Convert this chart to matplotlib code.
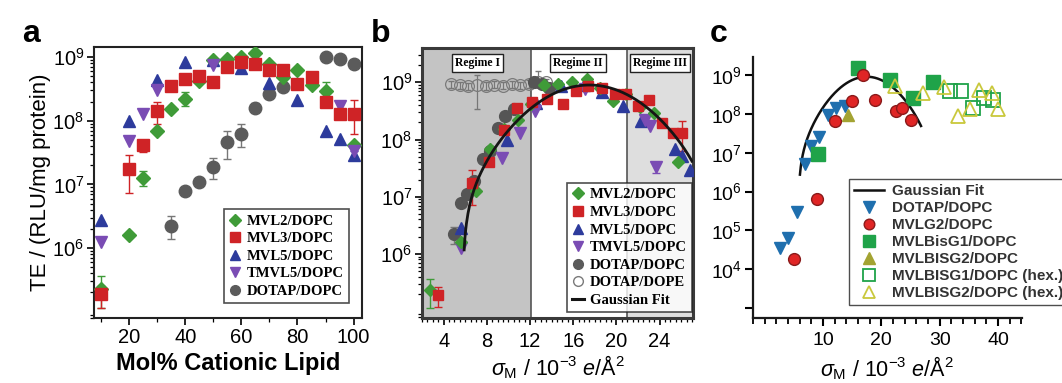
import matplotlib
matplotlib.use("Agg")
import matplotlib.pyplot as plt
import matplotlib.ticker as mticker
from matplotlib.lines import Line2D
import numpy as np

plt.rcParams['font.family'] = 'Liberation Sans'
plt.rcParams['mathtext.fontset'] = 'custom'
plt.rcParams['mathtext.rm'] = 'Liberation Sans'
plt.rcParams['mathtext.it'] = 'Liberation Sans:italic'
plt.rcParams['mathtext.bf'] = 'Liberation Sans:bold'

# ---------------- panel a: TE vs mol% cationic lipid
a_mvl2_mol = [10, 20, 25, 30, 35, 40, 45, 50, 55, 60, 65, 70, 75, 80, 85, 90, 100]
a_mvl2_te = [2.3e5, 1.6e6, 1.26e7, 6.8e7, 1.55e8, 2.2e8, 4.2e8, 9.1e8, 9.5e8, 1.0e9,
             1.15e9, 7.9e8, 4.8e8, 6.2e8, 3.7e8, 2.9e8, 4.1e7]
a_mvl3_mol = [10, 20, 25, 30, 35, 40, 45, 50, 55, 60, 65, 70, 75, 80, 85, 90, 95, 100]
a_mvl3_te = [1.9e5, 1.75e7, 4.1e7, 1.45e8, 3.5e8, 4.6e8, 5.1e8, 4.1e8, 7.1e8, 8.5e8,
             7.9e8, 6.2e8, 6.3e8, 3.8e8, 4.9e8, 1.95e8, 1.3e8, 1.3e8]
a_mvl5_mol = [10, 20, 30, 40, 50, 60, 70, 80, 90, 95, 100]
a_mvl5_te = [2.8e6, 1.0e8, 4.4e8, 8.5e8, 9.0e8, 6.8e8, 3.9e8, 2.1e8, 6.8e7, 5.1e7, 2.95e7]
a_tmvl5_mol = [10, 20, 25, 30, 50, 95, 100]
a_tmvl5_te = [1.26e6, 4.8e7, 1.3e8, 3.1e8, 7.6e8, 1.7e8, 3.3e7]
a_dotap_mol = [35, 40, 45, 50, 55, 60, 65, 70, 75, 90, 95, 100]
a_dotap_te = [2.2e6, 7.8e6, 1.1e7, 1.85e7, 4.6e7, 6.3e7, 1.6e8, 2.6e8, 3.4e8, 1.0e9, 9.4e8, 7.9e8]

# error bars (mol%, low, high)
a_mvl2_err = ([10, 25, 40, 90], [1.15e5, 9.5e6, 1.7e8, 2.3e8], [3.6e5, 1.6e7, 2.8e8, 4.1e8])
a_mvl3_err = ([10, 20, 25, 30, 100], [1.15e5, 7.2e6, 3.2e7, 9.0e7, 6.3e7],
              [2.5e5, 2.9e7, 5.0e7, 2.0e8, 2.1e8])
a_mvl5_err = ([100], [2.5e7], [3.4e7])
a_dotap_err = ([35, 50, 55, 60, 65], [1.4e6, 1.2e7, 2.5e7, 3.9e7, 1.35e8],
               [3.2e6, 2.6e7, 7.0e7, 9.0e7, 1.9e8])

# ---------------- panel b: TE vs membrane charge density
b_mvl2_sig = [2.7, 5.6, 7.0, 8.3, 9.6, 10.9, 12.1, 13.3, 14.6, 15.9, 17.3, 18.5, 19.7,
              20.9, 22.2, 23.5, 25.7]
b_mvl2_te = a_mvl2_te
b_mvl3_sig = [3.5, 6.65, 8.2, 9.57, 10.8, 12.2, 13.6, 15.05, 16.3, 17.4, 18.65, 19.9,
              20.9, 22.0, 23.05, 24.2, 25.2, 26.1]
b_mvl3_te = a_mvl3_te
b_mvl5_sig = [5.6, 9.9, 12.6, 14.9, 17.0, 18.7, 20.6, 22.3, 25.4, 26.1, 26.8]
b_mvl5_te = a_mvl5_te
b_tmvl5_sig = [5.6, 9.4, 11.1, 12.5, 17.1, 22.65, 23.1, 23.7]
b_tmvl5_te = [1.26e6, 4.8e7, 1.3e8, 3.1e8, 7.6e8, 2.2e8, 1.7e8, 3.3e7]
b_dotap_sig = [5.0, 5.6, 6.2, 6.8, 7.6, 8.3, 9.0, 9.7, 10.5, 12.4, 13.1, 13.8]
b_dotap_te = a_dotap_te
b_dope_sig = [4.7, 5.5, 6.3, 7.1, 7.9, 8.7, 9.5, 10.3, 11.1, 11.9, 12.7, 13.5]
b_dope_te = [9.2e8, 8.8e8, 8.5e8, 9.0e8, 8.6e8, 9.1e8, 8.7e8, 9.2e8, 8.9e8, 9.4e8, 1.0e9, 1.0e9]
b_dope_lo = [7.8e8, 7.6e8, 7.4e8, 3.4e8, 7.4e8, 7.8e8, 7.5e8, 8.0e8, 7.7e8, 8.1e8, 8.6e8, 8.6e8]
b_dope_hi = [1.07e9, 1.02e9, 9.8e8, 1.35e9, 1.0e9, 1.06e9, 1.0e9, 1.07e9, 1.03e9, 1.1e9, 1.6e9, 1.16e9]
b_mvl2_err = ([2.7], [1.15e5], [3.6e5])
b_mvl3_err = ([3.5, 6.65, 26.1], [1.2e5, 7.2e6, 6.3e7], [2.6e5, 2.9e7, 2.1e8])
b_tmvl5_err = ([23.7], [2.6e7], [3.8e7])
b_dotap_err = ([5.0], [1.5e6], [3.0e6])
regime_bounds = [12.1, 21.0]
regime_names = ['Regime I', 'Regime II', 'Regime III']
regime_label_x = [7.1, 16.45, 24.0]

# Gaussian fit (panels b and c)
GAUSS_AMP = 9.1e8
GAUSS_CENTER = 17.5
GAUSS_WIDTH = 4.0
GAUSS_OFFSET = 1.24e7
b_fit_range = (5.9, 27.0)
c_fit_range = (6.05, 26.8)

# ---------------- panel c: guanidinium lipids
c_dotap_sig = [2.7, 4.0, 5.5, 6.9, 8.0, 9.4, 10.9, 12.3, 13.7]
c_dotap_te = [3.5e4, 6.3e4, 2.9e5, 5.0e6, 1.5e7, 2.5e7, 9.5e7, 1.4e8, 1.55e8]
c_mvlg2_sig = [5.0, 8.9, 12.0, 14.9, 16.9, 19.0, 22.5, 23.6, 25.0]
c_mvlg2_te = [1.9e4, 6.3e5, 6.5e7, 2.1e8, 1.0e9, 2.3e8, 1.2e8, 1.4e8, 7.0e7]
c_bisg1_sig = [9.1, 16.0, 21.4, 25.4, 28.9]
c_bisg1_te = [9.5e6, 1.5e9, 7.2e8, 2.6e8, 6.6e8]
c_bisg2_sig = [14.35]
c_bisg2_te = [9.5e7]
c_bisg1_hex_sig = [31.8, 33.7, 35.7, 37.6, 39.2]
c_bisg1_hex_te = [3.9e8, 3.9e8, 1.4e8, 2.5e8, 2.2e8]
c_bisg2_hex_sig = [22.4, 27.1, 30.7, 33.1, 35.2, 36.8, 38.9, 40.0]
c_bisg2_hex_te = [5.2e8, 3.5e8, 5.0e8, 9.0e7, 1.3e8, 4.2e8, 3.5e8, 1.3e8]
c_xtick_labels = [10, 20, 30, 40]

COL_MVL2 = '#3f9b38'
COL_MVL3 = '#cf2326'
COL_MVL5 = '#2d3b9c'
COL_TMVL5 = '#7a4cb4'
COL_DOTAP = '#5b5b5b'


def gauss_fit(x):
    return GAUSS_AMP * np.exp(-(x - GAUSS_CENTER) ** 2 / (2 * GAUSS_WIDTH ** 2)) - GAUSS_OFFSET


def draw_err(ax, xs, ys, err, color):
    lookup = dict(zip(xs, ys))
    ex, lo, hi = err
    ey = [lookup[x] for x in ex]
    ax.errorbar(ex, ey, yerr=[np.subtract(ey, lo), np.subtract(hi, ey)], fmt='none',
                ecolor=color, elinewidth=1.0, capsize=3, capthick=1.0, zorder=1)


def log_axis(ax, lo, hi):
    ax.set_yscale('log')
    ax.set_ylim(lo, hi)
    ax.yaxis.set_major_locator(mticker.FixedLocator([1e6, 1e7, 1e8, 1e9]))
    ax.yaxis.set_major_formatter(mticker.LogFormatterSciNotation())
    ax.yaxis.set_minor_locator(mticker.LogLocator(base=10, subs=np.arange(2, 10), numticks=20))
    ax.yaxis.set_minor_formatter(mticker.NullFormatter())


fig = plt.figure(figsize=(10.62, 3.83), dpi=100)
legfont = {'family': 'Liberation Serif', 'weight': 'bold', 'size': 10.5}

# ================= panel a
ax_a = fig.add_axes([0.0885, 0.1697, 0.2524, 0.7076])
log_axis(ax_a, 10 ** 4.9, 10 ** 9.16)
ax_a.set_xlim(7.5, 103)
ax_a.xaxis.set_major_locator(mticker.MultipleLocator(20))
ax_a.xaxis.set_minor_locator(mticker.MultipleLocator(10))

for err, xs, ys, c in [(a_dotap_err, a_dotap_mol, a_dotap_te, '#777777'),
                       (a_mvl2_err, a_mvl2_mol, a_mvl2_te, COL_MVL2),
                       (a_mvl3_err, a_mvl3_mol, a_mvl3_te, COL_MVL3),
                       (a_mvl5_err, a_mvl5_mol, a_mvl5_te, COL_MVL5)]:
    draw_err(ax_a, xs, ys, err, c)

h_dotap, = ax_a.plot(a_dotap_mol, a_dotap_te, 'o', ms=9, color=COL_DOTAP, mec=COL_DOTAP, zorder=2)
h_mvl5, = ax_a.plot(a_mvl5_mol, a_mvl5_te, '^', ms=9, color=COL_MVL5, mec=COL_MVL5, zorder=3)
h_mvl2, = ax_a.plot(a_mvl2_mol, a_mvl2_te, 'D', ms=7, color=COL_MVL2, mec=COL_MVL2, zorder=4)
h_tmvl5, = ax_a.plot(a_tmvl5_mol, a_tmvl5_te, 'v', ms=9, color=COL_TMVL5, mec=COL_TMVL5, zorder=5)
h_mvl3, = ax_a.plot(a_mvl3_mol, a_mvl3_te, 's', ms=8.5, color=COL_MVL3, mec=COL_MVL3, zorder=6)

leg_handles = [Line2D([], [], ls='none', marker=m, color=c, ms=s)
               for m, c, s in [('D', COL_MVL2, 6), ('s', COL_MVL3, 7), ('^', COL_MVL5, 7),
                               ('v', COL_TMVL5, 7), ('o', COL_DOTAP, 7)]]
leg = ax_a.legend(leg_handles, ['MVL2/DOPC', 'MVL3/DOPC', 'MVL5/DOPC', 'TMVL5/DOPC', 'DOTAP/DOPC'],
                  loc='lower right', bbox_to_anchor=(0.95, 0.055), prop=legfont,
                  frameon=True, fancybox=False, edgecolor='#222222', borderaxespad=0,
                  handlelength=0.8, handletextpad=0.4, labelspacing=0.3, borderpad=0.35)
leg.get_frame().set_linewidth(1.2)

ax_a.set_ylabel('TE / (RLU/mg protein)', fontsize=16, labelpad=1)
ax_a.set_xlabel('Mol% Cationic Lipid', fontsize=17, fontweight='bold', labelpad=4)
ax_a.tick_params(axis='both', which='major', labelsize=14.5, length=5, width=1.2, pad=2)
ax_a.tick_params(axis='both', which='minor', length=3, width=0.9)
for s in ax_a.spines.values():
    s.set_linewidth(1.5)
    s.set_color('#222222')
fig.text(0.021, 0.89, 'a', fontsize=23, fontweight='bold')

# ================= panel b
ax_b = fig.add_axes([0.3974, 0.1697, 0.2552, 0.705])
log_axis(ax_b, 10 ** 4.88, 10 ** 9.6)
ax_b.set_xlim(2.0, 27.1)
ax_b.xaxis.set_major_locator(mticker.MultipleLocator(4))
ax_b.xaxis.set_minor_locator(mticker.MultipleLocator(0.5))

ax_b.axvspan(ax_b.get_xlim()[0], regime_bounds[0], color='#c4c4c4', zorder=0, lw=0)
ax_b.axvspan(regime_bounds[1], ax_b.get_xlim()[1], color='#dedede', zorder=0, lw=0)
for xb in regime_bounds:
    ax_b.axvline(xb, color='#555555', lw=1.2, zorder=0.5)
for name, xl in zip(regime_names, regime_label_x):
    ax_b.text(xl, 0.945, name, transform=ax_b.get_xaxis_transform(), ha='center', va='center',
              fontdict={'family': 'Liberation Serif', 'weight': 'bold', 'size': 8.5},
              bbox=dict(boxstyle='square,pad=0.25', fc='white', ec='#222222', lw=1.0), zorder=8)

ax_b.errorbar(b_dope_sig, b_dope_te,
              yerr=[np.subtract(b_dope_te, b_dope_lo), np.subtract(b_dope_hi, b_dope_te)],
              fmt='none', ecolor='#777777', elinewidth=0.9, capsize=2.5, zorder=1)
for err, xs, ys, c in [(b_dotap_err, b_dotap_sig, b_dotap_te, '#777777'),
                       (b_mvl2_err, b_mvl2_sig, b_mvl2_te, COL_MVL2),
                       (b_mvl3_err, b_mvl3_sig, b_mvl3_te, COL_MVL3),
                       (b_tmvl5_err, b_tmvl5_sig, b_tmvl5_te, COL_TMVL5)]:
    draw_err(ax_b, xs, ys, err, c)

ax_b.plot(b_dope_sig, b_dope_te, 'o', ms=8.5, mfc='none', mec='#7a7a7a', mew=0.9, zorder=2)
ax_b.plot(b_dotap_sig, b_dotap_te, 'o', ms=8.5, color='#555555', zorder=3)
ax_b.plot(b_mvl5_sig, b_mvl5_te, '^', ms=8, color=COL_MVL5, zorder=4)
ax_b.plot(b_tmvl5_sig, b_tmvl5_te, 'v', ms=8, color=COL_TMVL5, zorder=5)
ax_b.plot(b_mvl2_sig, b_mvl2_te, 'D', ms=6.5, color=COL_MVL2, zorder=5)
ax_b.plot(b_mvl3_sig, b_mvl3_te, 's', ms=7.5, color=COL_MVL3, zorder=6)

xf = np.linspace(b_fit_range[0], b_fit_range[1], 300)
ax_b.plot(xf, gauss_fit(xf), color='#151515', lw=2.0, zorder=7)

b_handles = leg_handles + [Line2D([], [], ls='none', marker='o', mfc='none', mec='#7a7a7a', ms=7),
                           Line2D([], [], color='#151515', lw=2.2)]
leg_b = ax_b.legend(b_handles, ['MVL2/DOPC', 'MVL3/DOPC', 'MVL5/DOPC', 'TMVL5/DOPC', 'DOTAP/DOPC',
                                'DOTAP/DOPE', 'Gaussian Fit'],
                    loc='lower right', bbox_to_anchor=(0.996, 0.022), prop=legfont,
                    frameon=True, fancybox=False, edgecolor='#222222', borderaxespad=0,
                    handlelength=0.8, handletextpad=0.4, labelspacing=0.3, borderpad=0.35)
leg_b.get_frame().set_linewidth(1.2)
leg_b.set_zorder(9)

ax_b.set_xlabel(r'$\sigma_\mathrm{M}$ / 10$^{-3}$ $e$/Å$^2$', fontsize=15.5, labelpad=2)
ax_b.tick_params(axis='both', which='major', labelsize=14.5, length=5, width=1.2, pad=2)
ax_b.tick_params(axis='x', which='major', pad=5)
ax_b.tick_params(axis='both', which='minor', length=3, width=0.9)
for s in ax_b.spines.values():
    s.set_linewidth(2.2)
    s.set_color('#3a3a3a')
fig.text(0.349, 0.89, 'b', fontsize=23, fontweight='bold')

# ================= panel c
ax_c = fig.add_axes([0.7090, 0.1697, 0.2533, 0.6815])
ax_c.set_yscale('log')
ax_c.set_ylim(10 ** 2.75, 10 ** 9.46)
ax_c.set_xlim(-2.0, 44.1)
ax_c.yaxis.set_major_locator(mticker.FixedLocator([1e3, 1e4, 1e5, 1e6, 1e7, 1e8, 1e9]))
ax_c.yaxis.set_major_formatter(mticker.FixedFormatter(
    ['', r'$\mathdefault{10^{4}}$', r'$\mathdefault{10^{5}}$', r'$\mathdefault{10^{6}}$',
     r'$\mathdefault{10^{7}}$', r'$\mathdefault{10^{8}}$', r'$\mathdefault{10^{9}}$']))
ax_c.yaxis.set_minor_locator(mticker.NullLocator())
ax_c.xaxis.set_major_locator(mticker.FixedLocator(c_xtick_labels))
ax_c.xaxis.set_minor_locator(mticker.MultipleLocator(2))
ax_c.spines['top'].set_visible(False)
ax_c.spines['right'].set_visible(False)
for s in ['left', 'bottom']:
    ax_c.spines[s].set_linewidth(1.6)
    ax_c.spines[s].set_color('#1a1a1a')

xf = np.linspace(c_fit_range[0], c_fit_range[1], 300)
h_fit, = ax_c.plot(xf, gauss_fit(xf), color='#111111', lw=1.8, zorder=3)
h_c1, = ax_c.plot(c_dotap_sig, c_dotap_te, 'v', ms=9, color='#1f6fae', zorder=4)
h_c2, = ax_c.plot(c_mvlg2_sig, c_mvlg2_te, 'o', ms=8.5, color='#e02525', mec='#8a1a1a',
                  mew=1.0, zorder=5)
h_c3, = ax_c.plot(c_bisg1_sig, c_bisg1_te, 's', ms=9.5, color='#1fa349', zorder=4)
h_c4, = ax_c.plot(c_bisg2_sig, c_bisg2_te, '^', ms=9, color='#a3a332', zorder=4)
h_c5, = ax_c.plot(c_bisg1_hex_sig, c_bisg1_hex_te, 's', ms=10, mfc='none', mec='#1fa349',
                  mew=1.3, zorder=4)
h_c6, = ax_c.plot(c_bisg2_hex_sig, c_bisg2_hex_te, '^', ms=10, mfc='none', mec='#c9c83c',
                  mew=1.3, zorder=4)

leg_c = ax_c.legend([h_fit, h_c1, h_c2, h_c3, h_c4, h_c5, h_c6],
                    ['Gaussian Fit', 'DOTAP/DOPC', 'MVLG2/DOPC', 'MVLBisG1/DOPC', 'MVLBISG2/DOPC',
                     'MVLBISG1/DOPC (hex.)', 'MVLBISG2/DOPC (hex.)'],
                    loc='lower left', bbox_to_anchor=(0.357, 0.05), borderaxespad=0,
                    prop={'family': 'Liberation Sans', 'weight': 'bold', 'size': 11},
                    frameon=True, fancybox=False, edgecolor='#222222', handlelength=2.0,
                    handletextpad=0.5, labelspacing=0.2, borderpad=0.3, markerscale=0.9)
leg_c.get_frame().set_linewidth(1.0)
for t in leg_c.get_texts():
    t.set_color('#333333')

ax_c.set_xlabel(r'$\sigma_\mathrm{M}$ / 10$^{-3}$ $e$/Å$^2$', fontsize=15.5, labelpad=4)
ax_c.tick_params(axis='y', which='major', labelsize=14, length=6, width=1.5, pad=2)
ax_c.tick_params(axis='x', which='major', labelsize=14, length=6, width=1.5, pad=4)
ax_c.tick_params(axis='x', which='minor', length=4, width=1.3)
fig.text(0.668, 0.89, 'c', fontsize=23, fontweight='bold')

fig.savefig('out.png', dpi=100)
